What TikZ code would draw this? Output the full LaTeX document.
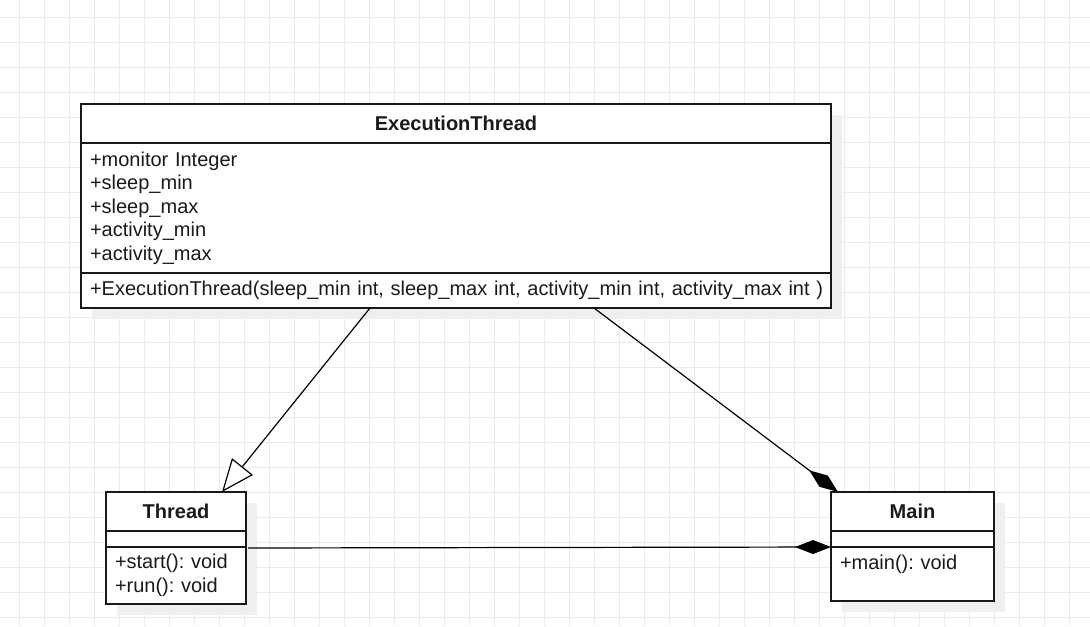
\documentclass[tikz,border=0pt]{standalone}
\usepackage{fontspec}
\setmainfont{Liberation Sans}
\usetikzlibrary{positioning,arrows.meta,shadows,calc}
\definecolor{gridgray}{HTML}{EBEBEB}
\definecolor{shadowgray}{HTML}{EFEFEF}
\definecolor{textgray}{HTML}{1A1A1A}
\frenchspacing

\begin{document}
\begin{tikzpicture}[x=0.75pt,y=-0.75pt,
    class box/.style={draw=black!90,line width=1pt,fill=white,outer sep=0pt,inner xsep=6.75pt,inner ysep=0pt,text=textgray,font=\fontsize{15pt}{17.6pt}\selectfont,drop shadow={shadow xshift=8.25pt,shadow yshift=-8.25pt,fill=shadowgray,opacity=1}},
    class head/.style={class box,font=\fontsize{15pt}{17.6pt}\selectfont\bfseries,minimum height=29.25pt},
    class part/.style={class box,align=left},
    link/.style={draw=black,line width=0.9pt}]
    \useasboundingbox (0,0) rectangle (1090,626);

    \foreach \gx in {0,...,42}
        \draw[gridgray,line width=0.75pt] (19.5+25*\gx,0) -- (19.5+25*\gx,626);
    \foreach \gy in {0,...,24}
        \draw[gridgray,line width=0.75pt] (0,17+25*\gy) -- (1090,17+25*\gy);

    \node[class head,minimum width=562.5pt,anchor=north west] (et) at (81,104) {ExecutionThread};
    \node[class part,text width=549pt,minimum height=97.5pt,below=0pt of et] (etattr) {+monitor Integer\\+sleep\_min\\+sleep\_max\\+activity\_min\\+activity\_max};
    \node[class part,text width=549pt,minimum height=26.25pt,below=0pt of etattr] (etops) {\mbox{+ExecutionThread(sleep\_min int, sleep\_max int, activity\_min int, activity\_max int )}};

    \node[class head,minimum width=105pt,anchor=north west] (thread) at (106,492) {Thread};
    \node[class part,text width=91.5pt,minimum height=12pt,below=0pt of thread] (threadattr) {};
    \node[class part,text width=91.5pt,minimum height=42.75pt,below=0pt of threadattr] (threadops) {+start(): void\\+run(): void};

    \node[class head,minimum width=122.25pt,anchor=north west] (main) at (831,492) {Main};
    \node[class part,text width=108.75pt,minimum height=12pt,below=0pt of main] (mainattr) {};
    \node[class part,text width=108.75pt,minimum height=40.5pt,below=0pt of mainattr] (mainops) {+main(): void\\\mbox{}};

    \draw[link,-{Triangle[open,length=24.5pt,width=20pt,fill=white]}] ($(etops.south)+(-86,0)$) -- ($(thread.north)+(46,0)$);
    \draw[link,-{Diamond[length=27pt,width=10.5pt]}] ($(etops.south)+(138,0)$) -- ($(main.north west)+(7,0)$);
    \draw[link,-{Diamond[length=27pt,width=10.5pt]}] ($(threadattr.south east)+(2,1)$) -- (mainattr.south west);
\end{tikzpicture}
\end{document}
